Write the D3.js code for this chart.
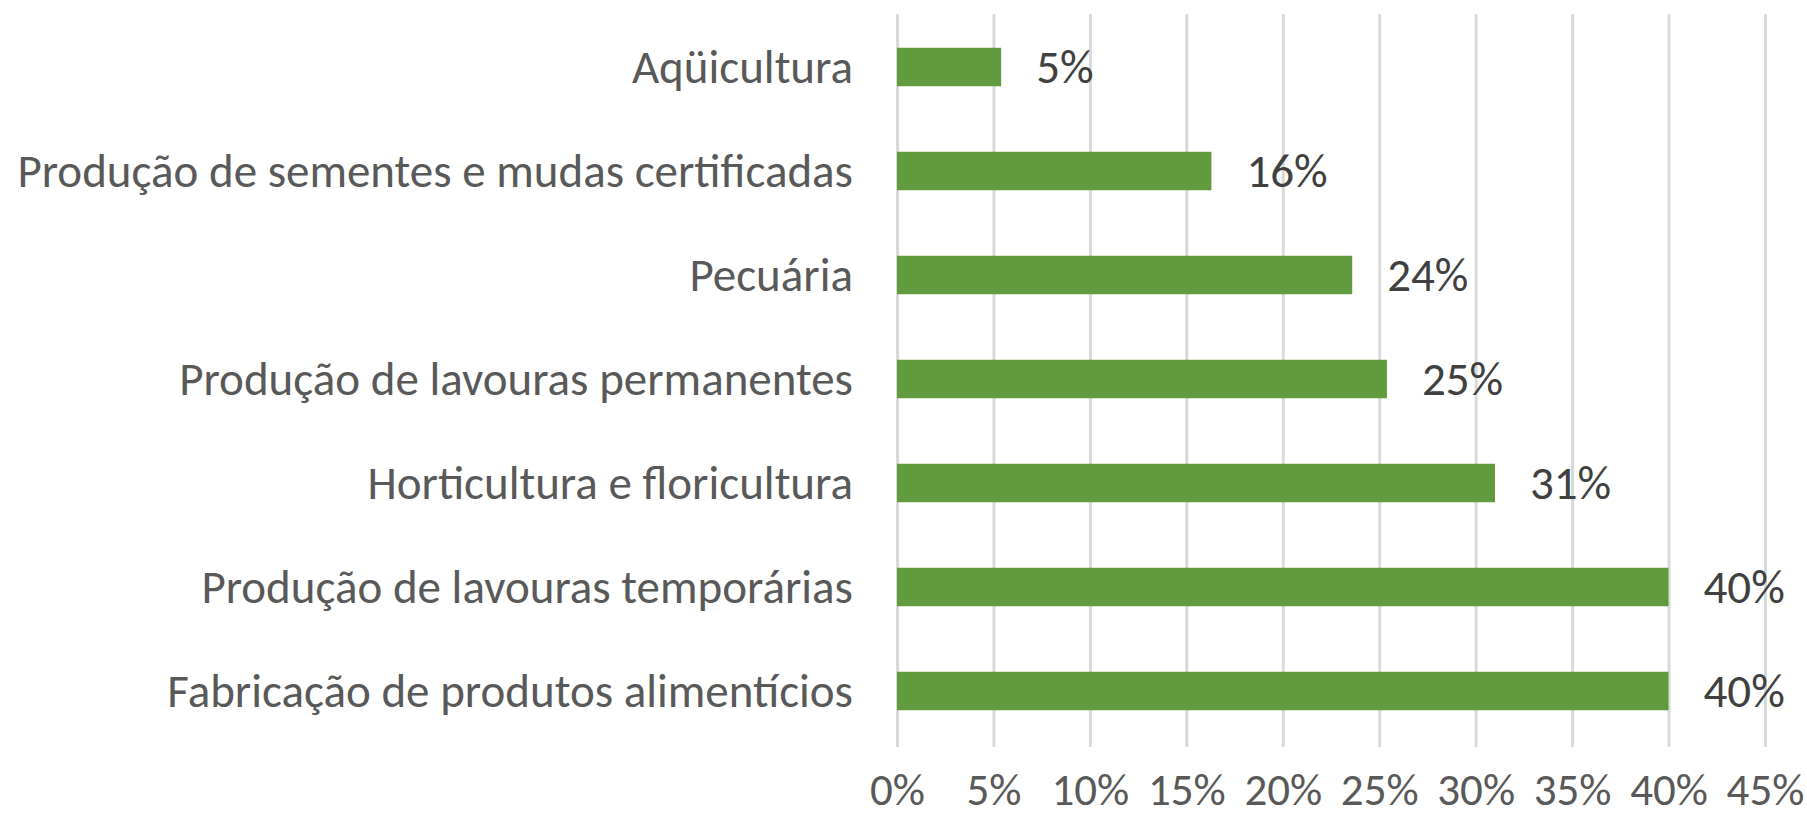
<!doctype html>
<html>
  <head>
    <script src="https://cdnjs.cloudflare.com/ajax/libs/d3/7.8.5/d3.min.js"></script>
    <style>
      body { margin: 0; background: #fff; }
      text { font-family: "Carlito", "Calibri", "Liberation Sans Narrow", "DejaVu Sans Condensed", sans-serif; }
      .grid line { stroke: #d9d9d9; stroke-width: 3; }
      .grid .domain { display: none; }
      .grid text { fill: #595959; font-size: 45px; }
      .cat { fill: #595959; font-size: 47px; }
      .val { fill: #404040; font-size: 47px; }
    </style>
  </head>
  <body>
    <svg width="1807" height="817"></svg>
    <script>
      var categories = [
        "Aqüicultura",
        "Produção de sementes e mudas certificadas",
        "Pecuária",
        "Produção de lavouras permanentes",
        "Horticultura e floricultura",
        "Produção de lavouras temporárias",
        "Fabricação de produtos alimentícios"
      ];
      var values = [0.054, 0.163, 0.236, 0.254, 0.31, 0.40, 0.40];
      var ticks = [0, 0.05, 0.10, 0.15, 0.20, 0.25, 0.30, 0.35, 0.40, 0.45];

      var svg = d3.select("svg");
      var fmt = d3.format(".0%");

      var x = d3.scaleLinear().domain([0, 0.45]).range([897, 1765]);
      var y = d3.scaleBand().domain(categories).range([15, 743])
        .paddingInner(0.63).paddingOuter(0.315);

      // gridlines + tick labels (labels sit right at the bottom edge)
      var grid = svg.append("g")
        .attr("class", "grid")
        .attr("transform", "translate(0,747)")
        .call(d3.axisBottom(x).tickValues(ticks).tickFormat(fmt).tickSize(-733));
      grid.selectAll("text").attr("y", 58).attr("dy", 0);

      svg.selectAll("rect.bar")
        .data(values)
        .enter()
        .append("rect")
          .attr("class", "bar")
          .attr("x", x(0))
          .attr("y", (d, i) => y(categories[i]))
          .attr("width", d => x(d) - x(0))
          .attr("height", y.bandwidth())
          .attr("fill", "#629a3e");

      svg.selectAll("text.val")
        .data(values)
        .enter()
        .append("text")
          .attr("class", "val")
          .attr("x", d => x(d) + 35)
          .attr("y", (d, i) => y(categories[i]) + y.bandwidth() / 2)
          .attr("dy", "0.33em")
          .text(d => fmt(d));

      svg.selectAll("text.cat")
        .data(categories)
        .enter()
        .append("text")
          .attr("class", "cat")
          .attr("x", 853)
          .attr("y", d => y(d) + y.bandwidth() / 2)
          .attr("dy", "0.33em")
          .attr("text-anchor", "end")
          .text(d => d);
    </script>
  </body>
</html>
